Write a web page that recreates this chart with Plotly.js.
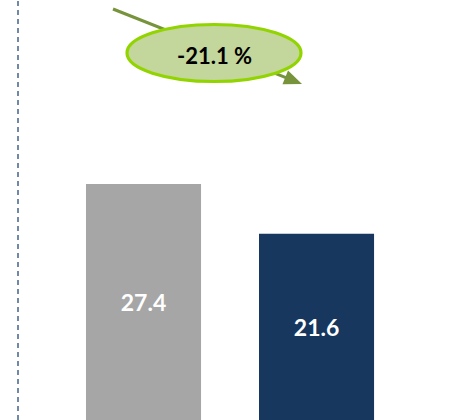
<!DOCTYPE html>
<html>
<head>
<meta charset="utf-8">
<script src="https://cdn.plot.ly/plotly-3.0.1.min.js"></script>
<style>html,body{margin:0;padding:0;background:#fff;}#chart{width:452px;height:420px;}</style>
</head>
<body>
<div id="chart"></div>
<script>
const categories = ["A", "B"];
const values = [27.4, 21.6];
const valueLabels = ["27.4", "21.6"];
const changeLabel = "-21.1 %";
const barColors = ["#a6a6a6", "#17375e"];

const W = 452, H = 420;
const px = x => x / W;
const py = y => 1 - y / H;

const trace = {
  type: "bar",
  x: categories,
  y: values,
  text: valueLabels,
  texttemplate: "<b>%{text}</b>",
  textposition: "inside",
  insidetextanchor: "middle",
  textangle: 0,
  textfont: {family: "Lato, 'Open Sans', sans-serif", size: 23, color: "#ffffff"},
  marker: {color: barColors, line: {width: 0}},
  width: 0.665,
  hoverinfo: "skip",
  cliponaxis: false
};

// arrow geometry (pixels)
const tail = [113, 9], tip = [302, 84];
const dx = tip[0] - tail[0], dy = tip[1] - tail[1];
const len = Math.hypot(dx, dy);
const ux = dx / len, uy = dy / len;
const headLen = 18, headHalf = 7.5;
const bx = tip[0] - ux * headLen, by = tip[1] - uy * headLen;
const p1 = [bx - uy * headHalf, by + ux * headHalf];
const p2 = [bx + uy * headHalf, by - ux * headHalf];

const shapes = [
  {type: "line", xref: "paper", yref: "paper", x0: px(18), x1: px(18), y0: 0, y1: 1,
   line: {color: "#4f6b91", width: 1.6, dash: "5px,4px"}},
  {type: "line", xref: "paper", yref: "paper", x0: px(tail[0]), y0: py(tail[1]), x1: px(bx + ux * 2), y1: py(by + uy * 2),
   line: {color: "#77933c", width: 3}},
  {type: "path", xref: "paper", yref: "paper",
   path: `M ${px(tip[0])} ${py(tip[1])} L ${px(p1[0])} ${py(p1[1])} L ${px(p2[0])} ${py(p2[1])} Z`,
   fillcolor: "#77933c", line: {width: 0}},
  {type: "circle", xref: "paper", yref: "paper", x0: px(127), x1: px(301), y0: py(81.5), y1: py(24.5),
   fillcolor: "#c3d69b", line: {color: "#92d400", width: 3.2}}
];

const layout = {
  width: W, height: H,
  margin: {l: 0, r: 0, t: 0, b: 0},
  paper_bgcolor: "#ffffff", plot_bgcolor: "#ffffff",
  showlegend: false,
  xaxis: {type: "category", range: [-0.8295, 1.783], visible: false, fixedrange: true},
  yaxis: {range: [0, 48.74], visible: false, fixedrange: true},
  shapes: shapes,
  annotations: [{
    xref: "paper", yref: "paper", x: px(214), y: py(56), showarrow: false,
    text: "<b>" + changeLabel + "</b>", xanchor: "center", yanchor: "middle",
    font: {family: "Lato, 'Open Sans', sans-serif", size: 22, color: "#000000"}
  }]
};

Plotly.newPlot("chart", [trace], layout, {displayModeBar: false, staticPlot: true});
</script>
</body>
</html>
